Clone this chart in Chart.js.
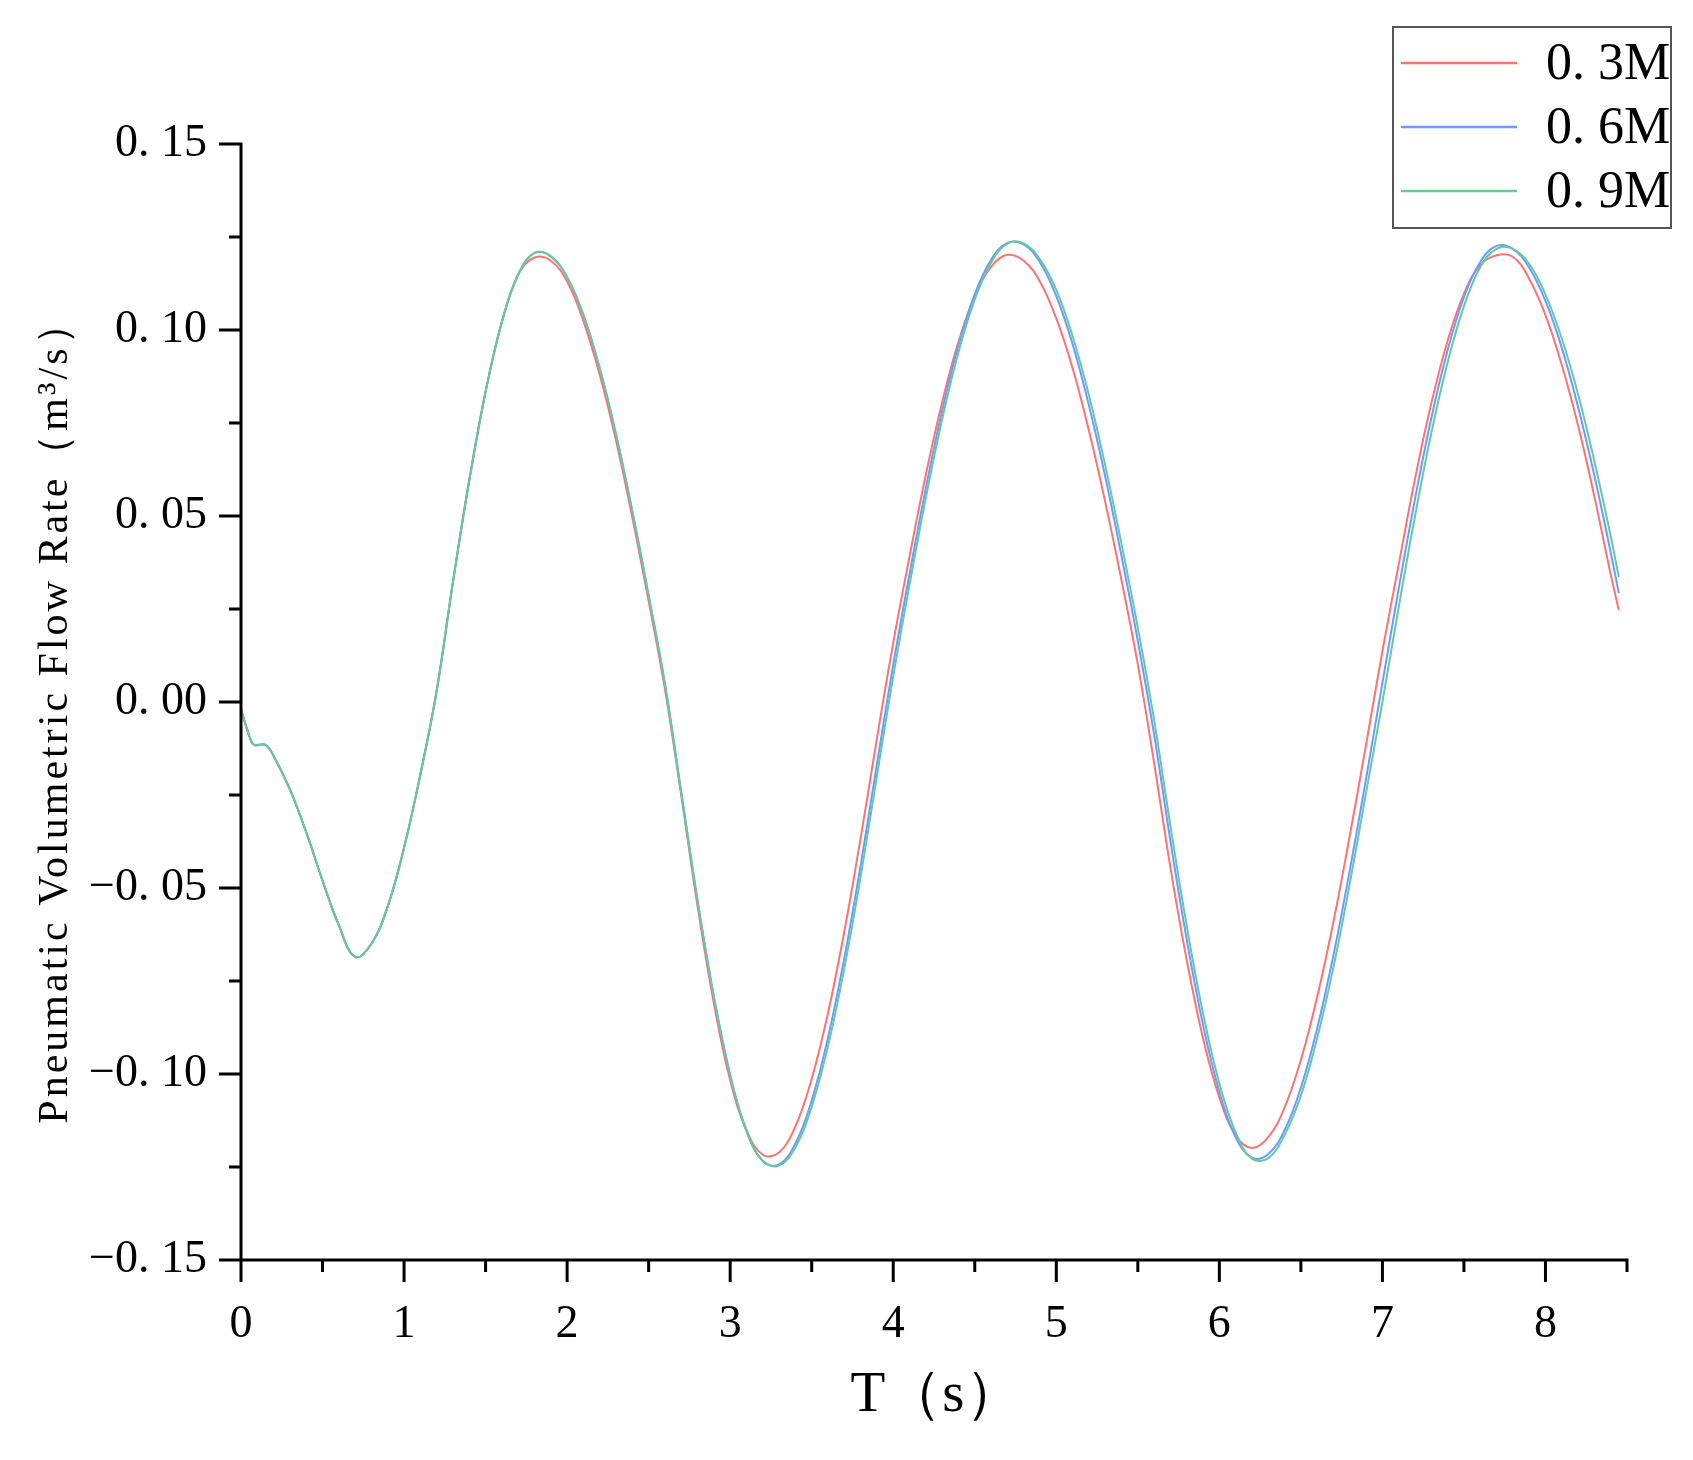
<!DOCTYPE html>
<html>
<head>
<meta charset="utf-8">
<script src="https://cdn.jsdelivr.net/npm/chart.js@4.4.0/dist/chart.umd.min.js"></script>
<style>
  html, body { margin: 0; padding: 0; background: #fff; }
  #wrap { width: 1693px; height: 1460px; }
</style>
</head>
<body>
<div id="wrap"><canvas id="grafico" width="1693" height="1460"></canvas></div>
<script>
// tempo (s)
const tempos = [0, 0.05, 0.08, 0.15, 0.2, 0.3, 0.4, 0.5, 0.6, 0.7, 0.8, 0.9, 1.0, 1.1, 1.2, 1.3, 1.4, 1.5, 1.6, 1.7,
  1.8, 1.9, 2.0, 2.1, 2.2, 2.3, 2.4, 2.5, 2.6, 2.7, 2.8, 2.9, 3.0, 3.1, 3.2, 3.3, 3.4, 3.5, 3.6, 3.7,
  3.8, 3.9, 4.0, 4.1, 4.2, 4.3, 4.4, 4.5, 4.6, 4.7, 4.8, 4.9, 5.0, 5.1, 5.2, 5.3, 5.4, 5.5, 5.6, 5.7,
  5.8, 5.9, 6.0, 6.1, 6.2, 6.3, 6.4, 6.5, 6.6, 6.7, 6.8, 6.9, 7.0, 7.1, 7.2, 7.3, 7.4, 7.5, 7.6, 7.7,
  7.8, 7.9, 8.0, 8.1, 8.2, 8.3, 8.4, 8.45];

// vazao 0.3M
const vazao03 = [-0.002, -0.009, -0.0115, -0.0115, -0.0145, -0.0235, -0.0350, -0.0480, -0.0600, -0.0685, -0.0650, -0.0549, -0.0392, -0.0195, 0.0030, 0.0323, 0.0596, 0.0834, 0.1022, 0.1149,
  0.1195, 0.1186, 0.1130, 0.1024, 0.0880, 0.0703, 0.0496, 0.0271, 0.0034, -0.0252, -0.0549, -0.0810, -0.1017, -0.1151, -0.1217, -0.1211, -0.1141, -0.1013, -0.0836, -0.0617,
  -0.0366, -0.0098, 0.0159, 0.0391, 0.0611, 0.0806, 0.0968, 0.1091, 0.1170, 0.1202, 0.1186, 0.1130, 0.1031, 0.0897, 0.0730, 0.0538, 0.0327, 0.0101, -0.0164, -0.0445,
  -0.0694, -0.0904, -0.1063, -0.1165, -0.1199, -0.1170, -0.1090, -0.0962, -0.0793, -0.0590, -0.0359, -0.0114, 0.0137, 0.0370, 0.0600, 0.0803, 0.0971, 0.1097, 0.1175, 0.1201,
  0.1197, 0.1138, 0.1040, 0.0906, 0.0743, 0.0552, 0.0343, 0.0247];

// vazao 0.6M
const vazao06 = [-0.002, -0.009, -0.0115, -0.0115, -0.0145, -0.0235, -0.0350, -0.0480, -0.0600, -0.0685, -0.0650, -0.0549, -0.0392, -0.0195, 0.0030, 0.0323, 0.0596, 0.0834, 0.1022, 0.1149,
  0.1207, 0.1198, 0.1142, 0.1040, 0.0897, 0.0719, 0.0512, 0.0286, 0.0048, -0.0243, -0.0534, -0.0792, -0.1003, -0.1153, -0.1234, -0.1243, -0.1187, -0.1071, -0.0902, -0.0688,
  -0.0439, -0.0167, 0.0100, 0.0344, 0.0575, 0.0783, 0.0959, 0.1096, 0.1189, 0.1234, 0.1230, 0.1182, 0.1091, 0.0962, 0.0798, 0.0606, 0.0392, 0.0164, -0.0088, -0.0374,
  -0.0639, -0.0868, -0.1048, -0.1170, -0.1225, -0.1215, -0.1151, -0.1037, -0.0877, -0.0680, -0.0452, -0.0205, 0.0051, 0.0305, 0.0546, 0.0763, 0.0946, 0.1088, 0.1183, 0.1226,
  0.1218, 0.1168, 0.1078, 0.0952, 0.0793, 0.0608, 0.0402, 0.0292];

// vazao 0.9M
const vazao09 = [-0.002, -0.009, -0.0115, -0.0115, -0.0145, -0.0235, -0.0350, -0.0480, -0.0600, -0.0685, -0.0650, -0.0549, -0.0392, -0.0195, 0.0030, 0.0323, 0.0596, 0.0834, 0.1022, 0.1149,
  0.1207, 0.1198, 0.1142, 0.1040, 0.0897, 0.0719, 0.0512, 0.0286, 0.0048, -0.0243, -0.0534, -0.0792, -0.1003, -0.1153, -0.1234, -0.1246, -0.1197, -0.1088, -0.0925, -0.0716,
  -0.0470, -0.0199, 0.0069, 0.0315, 0.0549, 0.0760, 0.0940, 0.1082, 0.1181, 0.1232, 0.1233, 0.1190, 0.1108, 0.0984, 0.0825, 0.0636, 0.0425, 0.0200, -0.0048, -0.0333,
  -0.0602, -0.0837, -0.1025, -0.1157, -0.1228, -0.1226, -0.1164, -0.1058, -0.0904, -0.0712, -0.0488, -0.0243, 0.0000, 0.0255, 0.0500, 0.0723, 0.0913, 0.1064, 0.1169, 0.1218,
  0.1218, 0.1178, 0.1095, 0.0977, 0.0827, 0.0647, 0.0446, 0.0336];

const nomesSeries = ['0. 3M', '0. 6M', '0. 9M'];
const coresSeries = ['#ff7272', '#6a9cff', '#66c99b'];

const xMaiores = [0, 1, 2, 3, 4, 5, 6, 7, 8];
const xLabels = ['0', '1', '2', '3', '4', '5', '6', '7', '8'];
const xMenores = [0.5, 1.5, 2.5, 3.5, 4.5, 5.5, 6.5, 7.5, 8.5];
const yMaiores = [-0.15, -0.10, -0.05, 0, 0.05, 0.10, 0.15];
const yLabels = ['\u22120. 15', '\u22120. 10', '\u22120. 05', '0. 00', '0. 05', '0. 10', '0. 15'];
const yMenores = [-0.125, -0.075, -0.025, 0.025, 0.075, 0.125];

const tituloX = 'T\uFF08s\uFF09';
const tituloY = 'Pneumatic Volumetric Flow Rate\uFF08m\u00B3/s\uFF09';

const fonteSerif = "'Liberation Serif', 'DejaVu Serif', serif";

function montarPontos(lista) {
  return tempos.map((t, i) => ({ x: t, y: lista[i] }));
}

const series = [vazao03, vazao06, vazao09];
const datasets = series.map((lista, i) => ({
  label: nomesSeries[i],
  data: montarPontos(lista),
  borderColor: coresSeries[i],
  borderWidth: 2,
  pointRadius: 0,
  fill: false,
  tension: 0.4,
  order: 2 - i
}));

// eixos, ticks, titulos e legenda desenhados a mao
const eixosPlugin = {
  id: 'eixos',
  afterDraw(chart) {
    const ctx = chart.ctx;
    const xs = chart.scales.x;
    const ys = chart.scales.y;
    const x0 = xs.getPixelForValue(0);
    const x1 = xs.getPixelForValue(8.5);
    const yTop = ys.getPixelForValue(0.15);
    const yBot = ys.getPixelForValue(-0.15);

    ctx.save();
    ctx.strokeStyle = '#000';
    ctx.lineWidth = 3;
    ctx.beginPath();
    ctx.moveTo(x0, yTop - 1.5);
    ctx.lineTo(x0, yBot);
    ctx.moveTo(x0, yBot);
    ctx.lineTo(x1 + 1.5, yBot);

    yMaiores.forEach(v => {
      const p = ys.getPixelForValue(v);
      ctx.moveTo(x0 - 22, p);
      ctx.lineTo(x0, p);
    });
    yMenores.forEach(v => {
      const p = ys.getPixelForValue(v);
      ctx.moveTo(x0 - 12, p);
      ctx.lineTo(x0, p);
    });
    xMaiores.forEach(v => {
      const p = xs.getPixelForValue(v);
      ctx.moveTo(p, yBot);
      ctx.lineTo(p, yBot + 22);
    });
    xMenores.forEach(v => {
      const p = xs.getPixelForValue(v);
      ctx.moveTo(p, yBot);
      ctx.lineTo(p, yBot + 12);
    });
    ctx.stroke();

    // titulo x
    ctx.fillStyle = '#000';
    ctx.font = '57px ' + fonteSerif;
    ctx.textAlign = 'center';
    ctx.textBaseline = 'middle';
    ctx.fillText(tituloX, 936, 1396);

    // titulo y
    ctx.save();
    ctx.translate(56, 712);
    ctx.rotate(-Math.PI / 2);
    ctx.font = '42px ' + fonteSerif;
    ctx.letterSpacing = '3px';
    ctx.fillText(tituloY, 0, 0);
    ctx.restore();

    // legenda
    ctx.strokeStyle = '#555';
    ctx.lineWidth = 2;
    ctx.strokeRect(1393, 27, 278, 201);
    const linhas = [63, 127, 191];
    chart.data.datasets.forEach((ds, i) => {
      ctx.strokeStyle = ds.borderColor;
      ctx.lineWidth = 2.5;
      ctx.beginPath();
      ctx.moveTo(1401, linhas[i]);
      ctx.lineTo(1517, linhas[i]);
      ctx.stroke();
      ctx.fillStyle = '#000';
      ctx.font = '52px ' + fonteSerif;
      ctx.textAlign = 'left';
      ctx.textBaseline = 'middle';
      ctx.fillText(ds.label, 1546, linhas[i] + 2);
    });
    ctx.restore();
  }
};

const config = {
  type: 'line',
  data: { datasets: datasets },
  options: {
    responsive: false,
    animation: false,
    devicePixelRatio: 1,
    layout: { padding: { left: 0, top: 144, right: 66, bottom: 0 } },
    plugins: {
      legend: { display: false },
      tooltip: { enabled: false }
    },
    scales: {
      x: {
        type: 'linear',
        min: 0,
        max: 8.5,
        afterBuildTicks: (scale) => { scale.ticks = xMaiores.map(v => ({ value: v })); },
        afterFit: (scale) => { scale.height = 200; },
        grid: { display: false, drawTicks: false },
        border: { display: false },
        ticks: {
          padding: 37,
          color: '#000',
          maxRotation: 0,
          font: { family: fonteSerif, size: 46 },
          callback: (v, i) => xLabels[i]
        }
      },
      y: {
        min: -0.15,
        max: 0.15,
        afterBuildTicks: (scale) => { scale.ticks = yMaiores.map(v => ({ value: v })); },
        afterFit: (scale) => { scale.width = 241; },
        grid: { display: false, drawTicks: false },
        border: { display: false },
        ticks: {
          padding: 34,
          color: '#000',
          font: { family: fonteSerif, size: 46 },
          callback: (v, i) => yLabels[i]
        }
      }
    }
  },
  plugins: [eixosPlugin]
};

const ctx = document.getElementById('grafico').getContext('2d');
const grafico = new Chart(ctx, config);
</script>
</body>
</html>
